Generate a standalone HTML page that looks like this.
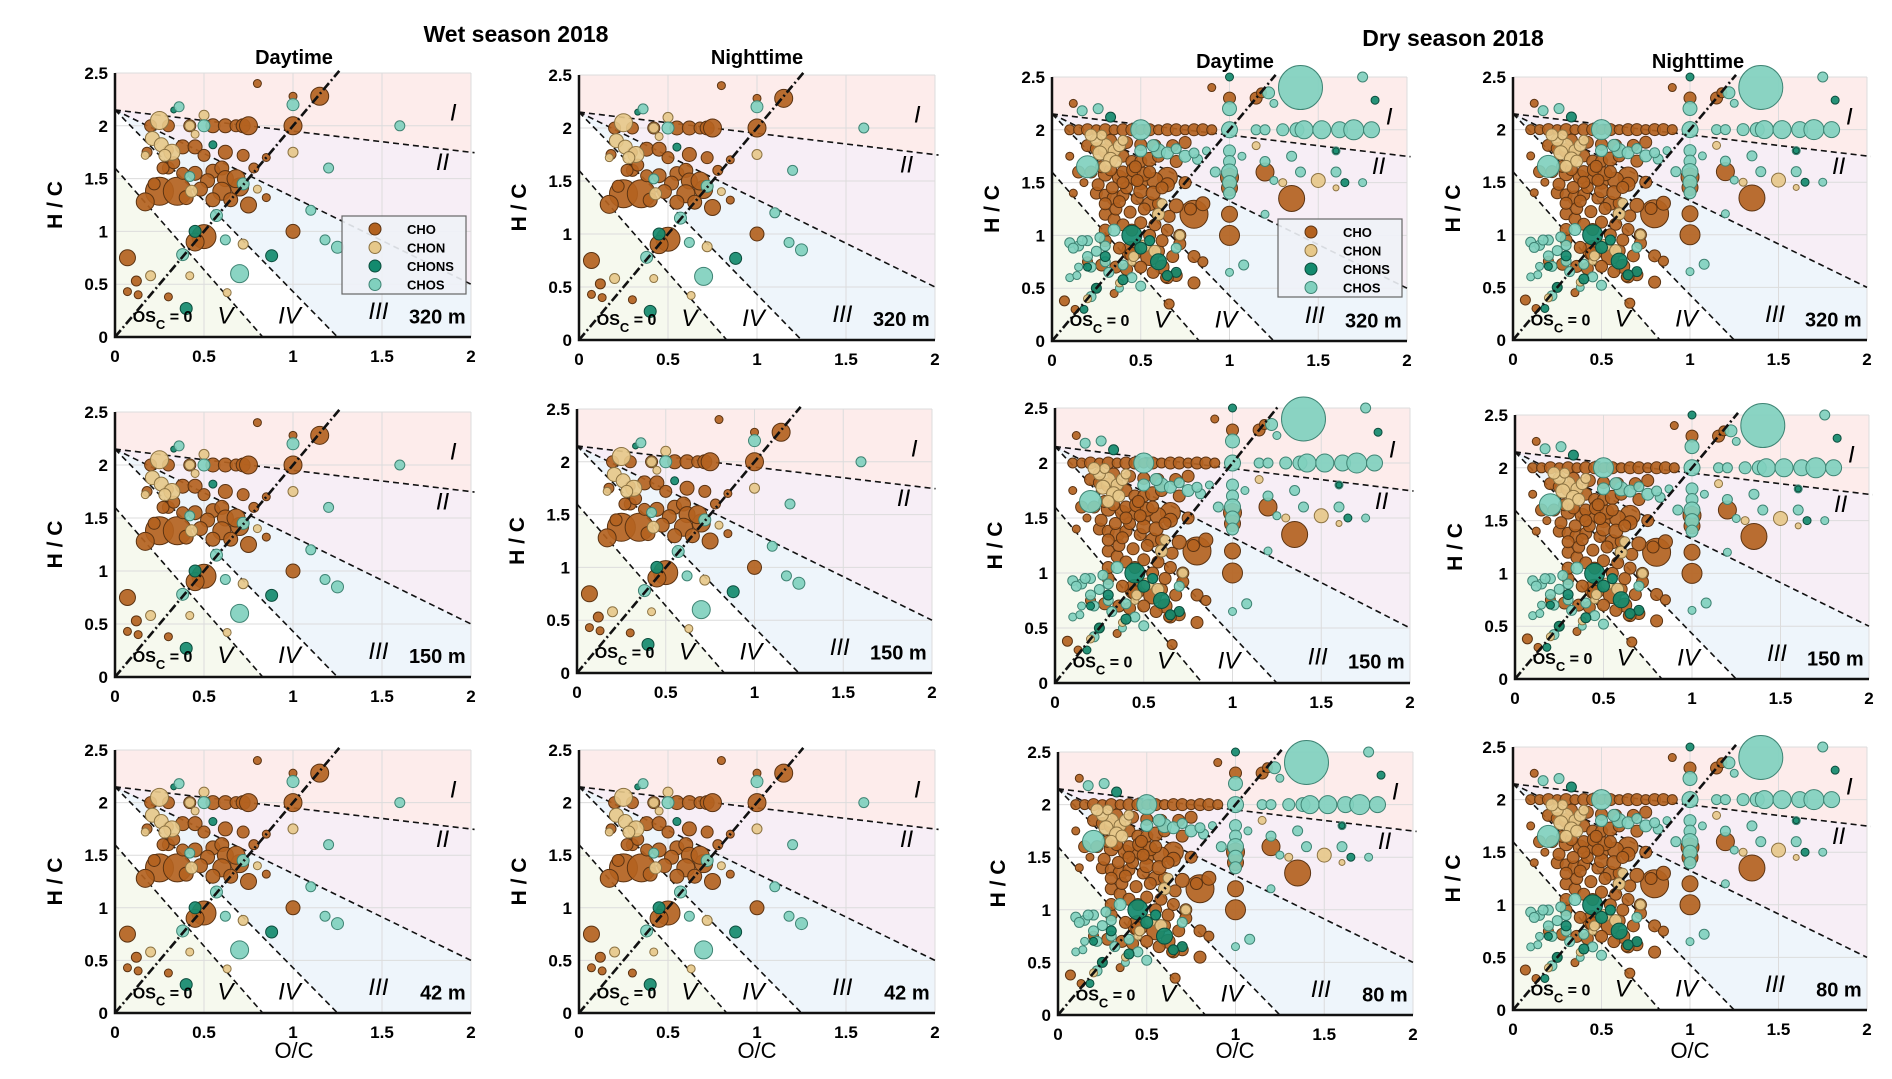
<!DOCTYPE html>
<html><head><meta charset="utf-8">
<style>
body{margin:0;background:#fff;}
svg{display:block;font-family:"Liberation Sans",Arial,sans-serif;}
</style></head>
<body>
<svg id="fig" width="1892" height="1079" viewBox="0 0 1892 1079" xmlns="http://www.w3.org/2000/svg">
<rect x="0" y="0" width="1892" height="1079" fill="#fff"/>
<text x="516" y="42" text-anchor="middle" font-size="23" font-weight="bold">Wet season 2018</text>
<text x="1453" y="46" text-anchor="middle" font-size="23" font-weight="bold">Dry season 2018</text>
<text x="294" y="64" text-anchor="middle" font-size="20" font-weight="bold">Daytime</text>
<text x="757" y="64" text-anchor="middle" font-size="20" font-weight="bold">Nighttime</text>
<text x="1235" y="68" text-anchor="middle" font-size="20" font-weight="bold">Daytime</text>
<text x="1698" y="68" text-anchor="middle" font-size="20" font-weight="bold">Nighttime</text>
<text x="294" y="1058" text-anchor="middle" font-size="22">O/C</text>
<text x="757" y="1058" text-anchor="middle" font-size="22">O/C</text>
<text x="1235" y="1058" text-anchor="middle" font-size="22">O/C</text>
<text x="1690" y="1058" text-anchor="middle" font-size="22">O/C</text>
<g id="panels"></g>
</svg>
<script>
// ---- data ----
const xTicks = [0, 0.5, 1, 1.5, 2];
const yTicks = [0, 0.5, 1, 1.5, 2, 2.5];
const xTickLabels = ["0", "0.5", "1", "1.5", "2"];
const yTickLabels = ["0", "0.5", "1", "1.5", "2", "2.5"];
const classNames = ["CHO", "CHON", "CHONS", "CHOS"];
const altitudeLabels = ["320 m","320 m","320 m","320 m","150 m","150 m","150 m","150 m","42 m","42 m","80 m","80 m"];
// wet-season points
const wetOC = [0.25,0.35,0.17,0.3,0.5,0.45,0.75,0.7,0.78,1,1.15,1,0.07,0.8,1,0.12,0.07,0.13,0.3,0.85,0.85,
 0.2,0.3,0.42,0.55,0.62,0.68,0.72,0.75,0.18,0.3,0.38,0.45,0.5,0.62,0.72,
 0.27,0.38,0.45,0.55,0.6,0.62,0.68,0.52,0.6,0.48,0.65,0.4,0.55,0.22,0.33,
 0.25,0.21,0.26,0.32,0.28,0.17,0.5,0.45,0.42,0.43,1,0.8,0.72,0.42,0.2,0.63,
 0.33,0.55,0.45,0.4,0.88,
 0.36,0.5,0.42,0.57,0.72,0.38,0.62,0.7,1,1.2,1.1,1.18,1.25,1.6];
const wetHC = [1.38,1.38,1.28,1.6,0.95,0.9,1.25,1.42,1.6,2,2.28,1,0.75,2.4,2.28,0.53,0.43,0.4,0.38,1.7,1.32,
 2,2,2,2,2,2,2,2,1.75,1.77,1.8,1.8,1.72,1.75,1.72,
 1.6,1.55,1.55,1.57,1.6,1.5,1.5,1.48,1.38,1.4,1.3,1.32,1.3,1.45,1.65,
 2.05,1.88,1.82,1.75,1.72,1.72,2.1,1.92,2,1.38,1.75,1.4,0.88,0.58,0.58,0.42,
 2.15,1.82,1,0.27,0.77,
 2.18,2,1.52,1.15,1.45,0.78,0.92,0.6,2.2,1.6,1.2,0.92,0.85,2];
const wetSize = [14,14,9,6,12,9,8,9,5,9,9,7,8,4,4,5,4,4,4,4,4,
 6,6,6,7,7,6,7,9,5,5,7,7,6,7,6,
 6,6,7,7,7,8,9,7,9,7,7,7,7,6,6,
 9,7,7,8,6,4,5,4,5,6,5,4,5,4,5,4,
 3,4,6,6,6,
 5,6,5,6,6,6,5,9,6,5,5,5,6,5];
const wetClass = [0,0,0,0,0,0,0,0,0,0,0,0,0,0,0,0,0,0,0,0,0,
 0,0,0,0,0,0,0,0,0,0,0,0,0,0,0,
 0,0,0,0,0,0,0,0,0,0,0,0,0,0,0,
 1,1,1,1,1,1,1,1,1,1,1,1,1,1,1,1,
 2,2,2,2,2,
 3,3,3,3,3,3,3,3,3,3,3,3,3,3];
// dry-season points
const dryOC = [1.4,0.8,1.35,1.2,0.65,0.45,0.55,0.85,0.9,1,1,1,1,1,1.15,1.18,
 0.1,0.15,0.2,0.25,0.3,0.35,0.4,0.45,0.5,0.55,0.6,0.65,0.7,0.75,0.8,0.85,0.9,
 0.2,0.25,0.3,0.35,0.4,0.45,0.5,0.55,0.6,0.7,
 0.15,0.22,0.3,0.38,0.45,0.5,0.58,0.65,0.75,
 0.25,0.3,0.35,0.4,0.48,0.55,0.6,0.7,0.78,
 0.3,0.35,0.4,0.5,0.58,0.65,0.72,0.3,0.38,0.45,0.6,0.68,0.2,0.28,0.36,0.42,0.62,0.7,0.65,0.8,
 0.12,0.1,0.18,0.07,0.13,0.25,0.35,0.12,0.66,
 0.28,0.33,0.4,0.46,0.52,0.26,0.34,0.42,0.5,0.57,0.62,0.36,0.44,0.52,0.6,0.66,0.4,0.48,0.55,0.33,0.42,0.5,0.58,0.68,0.75,0.3,0.45,0.55,0.62,0.72,0.8,0.85,0.5,0.57,0.64,0.3,0.38,0.47,
 1.15,1.2,1.3,1.38,1.42,1.52,1.62,1.7,1.8,1.0,1,1,1,1,1,1,
 1.22,1.75,1.07,1.2,1.35,1.4,1.25,1.6,1.75,1.08,1,1.2,1.6,1.25,
 0.2,0.5,0.6,0.65,0.75,0.82,0.1,0.15,0.2,0.25,0.3,0.35,0.2,0.15,0.1,0.3,0.45,0.5,0.38,0.22,0.55,0.7,0.92,
 0.12,0.17,0.27,0.22,0.14,0.32,0.4,0.5,0.57,0.7,0.8,0.87,0.17,0.26,
 1.5,1.3,1.6,1.15,0.3,0.25,0.35,0.32,0.28,0.6,0.62,0.38,0.45,0.2,0.72,
 0.27,0.33,0.38,0.22,0.3,0.36,0.4,0.52,0.58,0.46,
 1,1.82,1.6,1.65,0.45,0.5,0.2,0.25,0.18,0.6,0.55,0.7,0.65,0.33,0.3,0.4];
const dryHC = [2.4,1.2,1.35,1.6,1.55,0.85,0.8,1.3,2.4,1.55,1.45,1.2,1.0,2.3,2.3,2.35,
 2,2,2,2,2,2,2,2,2,2,2,2,2,2,2,2,2,
 1.85,1.82,1.8,1.78,1.75,1.7,1.7,1.72,1.75,1.7,
 1.6,1.6,1.58,1.55,1.55,1.5,1.52,1.48,1.5,
 1.4,1.38,1.35,1.38,1.35,1.3,1.3,1.28,1.25,
 1.2,1.15,1.1,1.12,1.1,1.05,1.0,0.95,0.88,0.82,0.85,0.8,0.75,0.72,0.7,0.68,0.7,0.62,0.6,0.55,
 1.4,1.75,1.5,0.38,0.3,0.5,0.45,2.25,0.35,
 1.65,1.62,1.6,1.62,1.58,1.48,1.45,1.45,1.42,1.4,1.45,1.25,1.22,1.25,1.2,1.18,1.5,1.52,1.6,1.9,1.88,1.86,1.85,1.85,1.88,1.05,1.05,1.0,0.95,0.92,0.8,0.75,0.7,0.65,0.6,1.3,1.32,1.65,
 2,2,2,2,2,2,2,2,2,2,2.2,1.8,1.7,1.6,1.5,1.4,
 2.35,2.5,1.75,1.7,1.75,1.6,1.52,1.6,1.5,0.72,0.65,1.2,1.8,2.25,
 1.65,2.0,1.8,1.78,1.75,1.72,0.93,0.9,0.95,0.85,0.9,1.05,0.8,0.7,0.6,0.75,0.6,0.52,0.5,0.42,0.95,0.88,1.6,
 0.88,0.95,0.98,0.7,0.62,0.65,0.72,1.8,1.85,1.82,1.78,1.8,2.18,2.2,
 1.52,1.5,1.45,1.85,1.85,1.9,1.8,1.72,1.95,1.2,1.3,0.55,0.75,0.4,1.0,
 1.78,1.72,1.85,1.95,1.65,1.7,1.9,0.9,0.85,0.8,
 2.5,2.28,1.8,1.5,1.0,0.88,0.7,0.5,0.3,0.75,0.95,0.65,0.62,2.12,0.8,0.58];
const drySize = [22,14,13,9,10,10,9,7,4,9,8,8,10,6,6,5,
 5,5,6,5,6,5,6,6,5,6,5,6,6,5,6,6,5,
 6,6,7,6,6,6,6,7,6,6,
 6,6,7,7,7,7,8,7,6,
 6,6,7,6,6,7,6,7,6,
 6,6,6,6,6,6,6,6,6,7,6,6,5,6,6,6,7,6,6,6,
 4,4,4,5,4,4,4,4,5,
 6,6,6,7,7,6,6,6,7,7,6,6,6,6,6,6,6,6,6,6,6,6,6,6,6,6,6,6,6,6,6,5,6,6,5,6,6,6,
 5,5,6,7,9,9,8,10,8,8,7,6,6,8,7,6,
 6,5,4,5,5,5,4,5,4,5,4,4,4,4,
 11,10,7,6,6,5,5,5,5,5,5,6,5,4,4,5,5,5,4,5,5,5,5,
 5,5,5,5,4,5,5,6,6,5,5,4,5,5,
 7,4,3,4,7,6,6,5,5,6,5,4,4,4,5,
 7,7,6,6,6,6,5,6,6,5,
 4,4,3,4,10,6,4,5,4,8,5,5,5,5,5,5];
const dryClass = [3,0,0,0,0,0,0,0,0,0,0,0,0,0,0,0,
 0,0,0,0,0,0,0,0,0,0,0,0,0,0,0,0,0,
 0,0,0,0,0,0,0,0,0,0,
 0,0,0,0,0,0,0,0,0,
 0,0,0,0,0,0,0,0,0,
 0,0,0,0,0,0,0,0,0,0,0,0,0,0,0,0,0,0,0,0,
 0,0,0,0,0,0,0,0,0,
 0,0,0,0,0,0,0,0,0,0,0,0,0,0,0,0,0,0,0,0,0,0,0,0,0,0,0,0,0,0,0,0,0,0,0,0,0,0,
 3,3,3,3,3,3,3,3,3,3,3,3,3,3,3,3,
 3,3,3,3,3,3,3,3,3,3,3,3,3,3,
 3,3,3,3,3,3,3,3,3,3,3,3,3,3,3,3,3,3,3,3,3,3,3,
 3,3,3,3,3,3,3,3,3,3,3,3,3,3,
 1,1,1,1,1,1,1,1,1,1,1,1,1,1,1,
 1,1,1,1,1,1,1,1,1,1,
 2,2,2,2,2,2,2,2,2,2,2,2,2,2,2,2];

// ---- layout (not data) ----
const fills = ["#b3621f","#e6c88a","#138a6e","#80d0be"];
const strokes = ["#5b3312","#8c7343","#0b4c3c","#3f8474"];
const boxes = [
 [115,471,73,337,"wet"],[579,935,75,340,"wet"],[1052,1407,77,341,"dry"],[1513,1867,77,340,"dry"],
 [115,471,412,677,"wet"],[577,932,409,673,"wet"],[1055,1410,408,683,"dry"],[1515,1869,415,679,"dry"],
 [115,471,750,1013,"wet"],[579,935,750,1013,"wet"],[1058,1413,752,1015,"dry"],[1513,1867,747,1010,"dry"]];
const NS = "http://www.w3.org/2000/svg";
const root = document.getElementById("panels");
function mk(tag, attrs, parent){const e=document.createElementNS(NS,tag);for(const k in attrs)e.setAttribute(k,attrs[k]);parent.appendChild(e);return e;}

boxes.forEach((b,pi)=>{
  const [x0,x1,yt,yb,season]=b;
  const sx=v=>x0+v/2*(x1-x0);
  const sy=v=>yb-v/2.5*(yb-yt);
  const g=mk("g",{},root);
  
  
  const poly=(pts,fill,name)=>{const p=mk("polygon",{points:pts.map(q=>sx(q[0])+","+sy(q[1])).join(" "),fill:fill},g);
    };
  poly([[0,2.5],[2,2.5],[2,1.75],[0,2.15]],"#fdeceb","region-i");
  poly([[0,2.15],[2,1.75],[2,0.5]],"#f7eef6","region-ii");
  poly([[0,2.15],[2,0.5],[2,0],[1.25,0]],"#eef5fb","region-iii");
  poly([[0,2.15],[1.25,0],[0.83,0],[0,1.6]],"#ffffff","region-iv");
  poly([[0,1.6],[0.83,0],[0,0]],"#f6f9ee","region-v");
  xTicks.forEach((t,i)=>{ if(i>0){const l=mk("line",{x1:sx(t),x2:sx(t),y1:yt,y2:yb,stroke:"#dcdcdc","stroke-width":1},g);
    }
    const tx=mk("text",{x:sx(t),y:yb+25,"text-anchor":"middle","font-size":17,"font-weight":"bold"},g);tx.textContent=xTickLabels[i];
    });
  yTicks.forEach((t,i)=>{ if(i>0){const l=mk("line",{x1:x0,x2:x1,y1:sy(t),y2:sy(t),stroke:"#dcdcdc","stroke-width":1},g);
    }
    const tx=mk("text",{x:x0-7,y:sy(t)+6,"text-anchor":"end","font-size":17,"font-weight":"bold"},g);tx.textContent=yTickLabels[i];
    });
  const dl=(a,c,w,d,name)=>{const l=mk("line",{x1:sx(a[0]),y1:sy(a[1]),x2:sx(c[0]),y2:sy(c[1]),stroke:"#111","stroke-width":w,"stroke-dasharray":d},g);
    };
  dl([0,2.15],[2.02,1.745],1.6,"6 4","boundary-i-ii");
  dl([0,2.15],[2,0.5],1.6,"6 4","boundary-ii-iii");
  dl([0,2.15],[1.25,0],1.6,"6 4","boundary-iii-iv");
  dl([0,1.6],[0.83,0],1.6,"6 4","boundary-iv-v");
  const OC=season==="wet"?wetOC:dryOC, HC=season==="wet"?wetHC:dryHC, SZ=season==="wet"?wetSize:drySize, CL=season==="wet"?wetClass:dryClass;
  OC.forEach((v,i)=>{const c=mk("circle",{cx:sx(v),cy:sy(HC[i]),r:SZ[i],fill:fills[CL[i]],stroke:strokes[CL[i]],"stroke-width":1,"fill-opacity":0.92},g);
    
    });
  dl([0,0],[1.26,2.52],2.6,"9 3 2 3","osc-zero-line");
  const ax=mk("path",{d:`M${x0},${yt} V${yb} H${x1}`,stroke:"#111","stroke-width":2.5,fill:"none"},g);
  
  const yl=mk("text",{x:0,y:0,transform:`translate(${x0-53},${(yt+yb)/2}) rotate(-90)`,"text-anchor":"middle","font-size":21,"font-weight":"bold"},g);
  yl.textContent="H / C";
  const lab=(t,v1,v2,name,fs,bold,it,anchor)=>{const e=mk("text",{x:sx(v1),y:sy(v2),"font-size":fs,"font-weight":bold?"bold":"normal","font-style":it?"italic":"normal","text-anchor":anchor||"middle"},g);
    e.textContent=t;return e;};
  lab("I",1.9,2.05,"region-label-i",24,false,true);
  lab("II",1.84,1.58,"region-label-ii",24,false,true);
  lab("III",1.48,0.17,"region-label-iii",24,false,true);
  lab("IV",0.98,0.13,"region-label-iv",24,false,true);
  lab("V",0.62,0.13,"region-label-v",24,false,true);
  lab(altitudeLabels[pi],1.97,0.13,"altitude-label",20,true,false,"end");
  const os=lab("",0.1,0.14,"osc-zero-label",16,true,false,"start");
  os.innerHTML='OS<tspan dy="7" font-size="13">C</tspan><tspan dy="-7"> = 0</tspan>';
  if(pi===0||pi===2){
    const lx=season==="wet"?342:1278, ly=season==="wet"?216:219;
    const lg=mk("g",{},g);
    mk("rect",{x:lx,y:ly,width:124,height:78,fill:"#eef2f7","fill-opacity":0.9,stroke:"#666","stroke-width":1.2},lg);
    classNames.forEach((n,k)=>{const yy=ly+13+k*18.5;
      const c=mk("circle",{cx:lx+33,cy:yy,r:6,fill:fills[k],stroke:strokes[k]},lg);
      
      const t=mk("text",{x:lx+65,y:yy+5,"font-size":13,"font-weight":"bold"},lg);t.textContent=n;
      });
  }
});
</script>
</body></html>
